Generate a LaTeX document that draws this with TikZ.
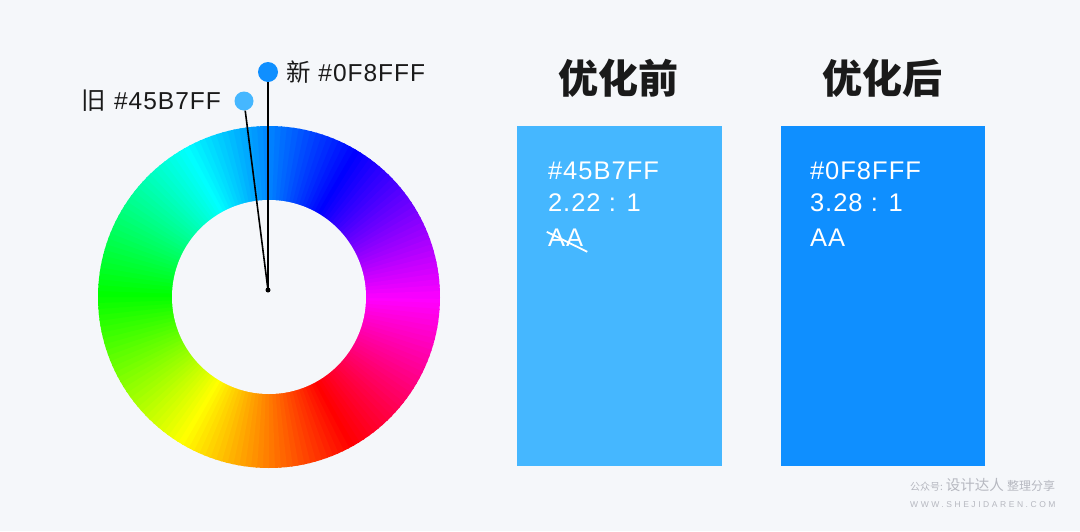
\documentclass[tikz,border=0pt]{standalone}
\usepackage{fontspec}
\setmainfont{Liberation Sans}[LetterSpace=4]
\newfontfamily\cjk{Noto Sans CJK SC}
\newfontfamily\wwwfont{Liberation Sans}[LetterSpace=30]
\usetikzlibrary{calc}
\definecolor{bg}{HTML}{F5F7FA}
\definecolor{oldblue}{HTML}{45B7FF}
\definecolor{newblue}{HTML}{0F8FFF}
\definecolor{pin}{HTML}{222222}
\definecolor{inkdark}{HTML}{1A1A1A}
\definecolor{mark}{HTML}{B6B8C0}
\begin{document}
\begin{tikzpicture}
[x=1pt,y=-1pt,
 swatch/.style={inner sep=0,minimum width=205,minimum height=340},
 hex/.style={anchor=base west,inner sep=0,text=white,font=\fontsize{25.5}{30}\selectfont},
 tag/.style={inner sep=0,text=inkdark,font=\fontsize{24.5}{30}\selectfont},
 pindot/.style={circle,inner sep=0,minimum size=19},
 heading/.style={inner sep=0,text=inkdark,font=\cjk\bfseries\fontsize{40}{48}\selectfont}]
\useasboundingbox (0,0) rectangle (1080,531);
\fill[bg] (0,0) rectangle (1080,531);
% hue ring
\coordinate (ring) at (269,297);
\coordinate (ctr) at (268,290);
\foreach \a in {0,2,...,358}{
  \pgfmathsetmacro\h{mod(300+\a,360)}
  \definecolor{wc}{Hsb}{\h,1,1}
  \fill[wc] (ring) -- ++(\a:171) arc[start angle=\a,end angle=\a+2.6,radius=171] -- cycle;
}
\fill[bg] (ring) circle[radius=97];
% pins
\node[pindot,fill=oldblue] (olddot) at (244,101) {};
\node[pindot,fill=newblue,minimum size=20] (newdot) at (268,72) {};
\draw[pin,line width=1.6] (ctr) -- (olddot);
\draw[pin,line width=1.6] (ctr) -- (newdot);
\fill[pin] (ctr) circle[radius=2.5];
\node[tag,anchor=east] (oldtag) at (221,101) {{\cjk 旧} \#45B7FF};
\node[tag,anchor=west] (newtag) at (286,72) {{\cjk 新} \#0F8FFF};
% before / after
\node[heading] (before) at (618,78) {优化前};
\node[heading] (after) at (882,78) {优化后};
\node[swatch,fill=oldblue] (beforebox) at (619.5,296) {};
\node[swatch,fill=newblue,minimum width=204] (afterbox) at (883,296) {};
\node[hex] (hexold) at ($(beforebox.north west)+(31,53.3)$) {\#45B7FF};
\node[hex] (ratioold) at ($(beforebox.north west)+(31,85.7)$) {2.22 : 1};
\node[hex] (aaold) at ($(beforebox.north west)+(31,121)$) {AA};
\draw[white,line width=1.8] ($(aaold.base west)+(-1,-15)$) -- ($(aaold.base east)+(4,5)$);
\node[hex] (hexnew) at ($(afterbox.north west)+(29,53.3)$) {\#0F8FFF};
\node[hex] (rationew) at ($(afterbox.north west)+(29,85.7)$) {3.28 : 1};
\node[hex] (aanew) at ($(afterbox.north west)+(29,121)$) {AA};
% watermark
\node[anchor=base west,inner sep=0,text=mark] (mark1) at (910,490)
  {\cjk\fontsize{10}{11}\selectfont 公众号: \fontsize{14.5}{15}\selectfont 设计达人 \fontsize{12}{13}\selectfont 整理分享};
\node[anchor=base west,inner sep=0,text=mark] (mark2) at (910,507.7)
  {\wwwfont\fontsize{8.5}{10}\selectfont WWW.SHEJIDAREN.COM};
\end{tikzpicture}
\end{document}
